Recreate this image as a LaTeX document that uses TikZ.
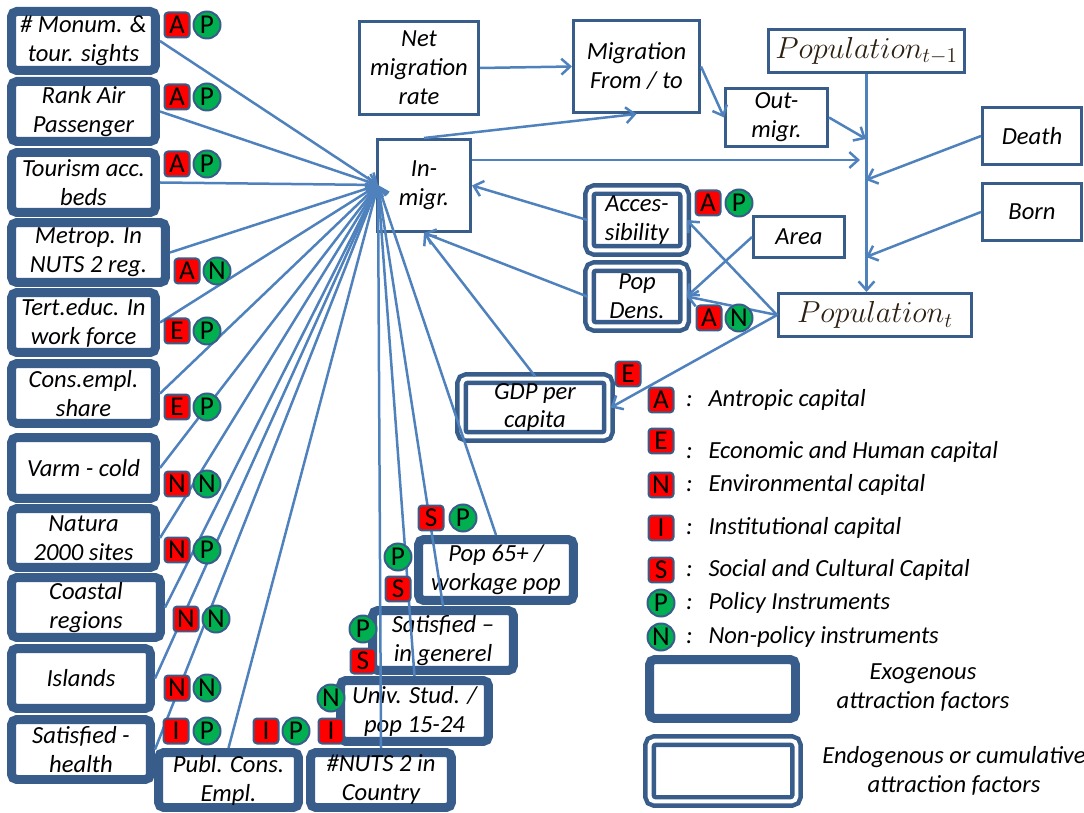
\documentclass[tikz,border=0pt]{standalone}
\usepackage{fontspec}
\setmainfont{Carlito}
\usepackage{amsmath}
\usepackage{tikz}
\usetikzlibrary{calc, shapes.geometric, arrows, arrows.meta}

\definecolor{caixa}{RGB}{56,93,138}
\definecolor{seta}{RGB}{79,129,189}
\definecolor{vermelho}{RGB}{255,0,0}
\definecolor{verde}{RGB}{0,176,80}
\definecolor{popcor}{RGB}{45,32,18}

\begin{document}
\begin{tikzpicture}[x=0.02cm, y=-0.02cm,
  >={Straight Barb[length=5pt, width=9pt]},
  rotulo/.style={align=center, inner sep=1pt, font=\fontsize{14}{16.5}\selectfont\itshape},
  exo/.style={rotulo, draw=caixa, line width=0.18cm, rounded corners=3pt, fill=white},
  endo/.style={rotulo, draw=caixa, line width=0.09cm, double=white, double distance=0.08cm, rounded corners=3pt, fill=white},
  simples/.style={rotulo, draw=caixa, line width=0.06cm, fill=white},
  pop/.style={draw=caixa, line width=0.06cm, fill=white, inner sep=1pt, text=popcor, font=\fontsize{18}{20}\selectfont},
  capred/.style={draw=caixa, line width=0.04cm, fill=vermelho, rounded corners=2pt, minimum size=0.5cm, inner sep=0pt, font=\fontsize{15.5}{15.5}\selectfont},
  capgreen/.style={circle, draw=caixa, line width=0.04cm, fill=verde, minimum size=0.54cm, inner sep=0pt, font=\fontsize{15.5}{15.5}\selectfont},
  fio/.style={seta, line width=0.05cm, ->},
  leg/.style={rotulo, anchor=west}]
\useasboundingbox (0,0) rectangle (1084,813);

% Fatores exogenos
\node[exo, minimum width=2.88cm, minimum height=1.18cm] (monum) at (83.5,41) {\# Monum. \&\\tour. sights};
\node[exo, minimum width=2.88cm, minimum height=1.2cm] (rankair) at (83.5,111.5) {Rank Air\\Passenger};
\node[exo, minimum width=2.88cm, minimum height=1.2cm] (tourism) at (83.5,182.5) {Tourism acc.\\beds};
\node[exo, minimum width=3.08cm, minimum height=1.2cm] (metrop) at (88.5,252.5) {Metrop. In\\NUTS 2 reg.};
\node[exo, minimum width=2.88cm, minimum height=1.2cm] (terteduc) at (83.5,322.5) {Tert.educ. In\\work force};
\node[exo, minimum width=2.88cm, minimum height=1.2cm] (consempl) at (83.5,393.5) {Cons.empl.\\share};
\node[exo, minimum width=2.88cm, minimum height=1.22cm] (varm) at (83.5,468) {Varm - cold};
\node[exo, minimum width=2.88cm, minimum height=1.18cm] (natura) at (83.5,538) {Natura\\2000 sites};
\node[exo, minimum width=2.98cm, minimum height=1.2cm] (coastal) at (86,607.5) {Coastal\\regions};
\node[exo, minimum width=2.78cm, minimum height=1.2cm] (islands) at (81,678.5) {Islands};
\node[exo, minimum width=2.78cm, minimum height=1.2cm] (sathealth) at (81,749.5) {Satisfied -\\health};
\node[exo, minimum width=2.8cm, minimum height=1.1cm] (publcons) at (228.5,780) {Publ. Cons.\\Empl.};
\node[exo, minimum width=2.82cm, minimum height=1.1cm] (nuts) at (381,780) {\#NUTS 2 in\\Country};
\node[exo, minimum width=2.96cm, minimum height=1.22cm] (univ) at (414.5,711) {Univ. Stud. /\\pop 15-24};
\node[exo, minimum width=2.82cm, minimum height=1.2cm] (satgen) at (443,640.5) {Satisfied --\\in generel};
\node[exo, minimum width=3.1cm, minimum height=1.22cm] (pop65) at (496,570) {Pop 65+ /\\workage pop};

% Fatores endogenos
\node[endo, minimum width=1.9cm, minimum height=1.22cm] (access) at (637,220) {Acces-\\sibility};
\node[endo, minimum width=1.9cm, minimum height=1.2cm] (popdens) at (637,296.5) {Pop\\Dens.};
\node[endo, minimum width=2.94cm, minimum height=1.16cm] (gdp) at (535,407.5) {GDP per\\capita};

% Caixas simples
\node[simples, minimum width=2.38cm, minimum height=1.86cm] (netmig) at (419,68) {Net\\migration\\rate};
\node[simples, minimum width=2.52cm, minimum height=1.84cm] (migr) at (636.5,66.5) {Migration\\From / to};
\node[simples, minimum width=1.86cm, minimum height=1.84cm] (inmigr) at (424,185.5) {In-\\migr.};
\node[simples, minimum width=2.04cm, minimum height=1.16cm] (outmigr) at (776.5,117.5) {Out-\\migr.};
\node[simples, minimum width=1.98cm, minimum height=1.14cm] (death) at (1032,136) {Death};
\node[simples, minimum width=1.98cm, minimum height=1.14cm] (born) at (1032,212) {Born};
\node[simples, minimum width=1.82cm, minimum height=0.82cm] (area) at (799,237) {Area};
\node[pop, minimum width=3.92cm, minimum height=0.86cm] (popprev) at (866.5,51) {$Population_{t-1}$};
\node[pop, minimum width=3.86cm, minimum height=0.86cm] (popnow) at (875,315) {$Population_{t}$};

% Pontos
\coordinate (hub) at (378,185);
\coordinate (c1) at (866,139);
\coordinate (c2) at (860,160);
\coordinate (c3) at (866,180);
\coordinate (c4) at (866,257);

% Setas
\draw[fio] (netmig.east) -- (migr.west);
\draw[fio] (migr.east) -- (outmigr.west);
\draw[fio] (inmigr.north) -- (migr.south);
\draw[fio] (inmigr.east |- c2) -- (c2);
\draw[fio] (outmigr.east) -- (c1);
\draw[fio] (popprev.south) -- (popprev.south |- popnow.north);
\draw[fio] (death.west) -- (c3);
\draw[fio] (born.west) -- (c4);
\draw[fio] (access.west) -- (inmigr.east);
\draw[fio] (popdens.west) -- (inmigr.south);
\draw[fio] (gdp.north) -- (inmigr.south);
\draw[fio] (popnow.west) -- (access.east);
\draw[fio] (popnow.west) -- (popdens.east);
\draw[fio] (area.west) -- (popdens.east);
\draw[fio] (popnow.west) -- (gdp.east);

% Leque para In-migr.
\draw[fio] (monum.east) -- (hub);
\draw[fio] (rankair.east) -- (hub);
\draw[fio] (tourism.east) -- (hub);
\draw[fio] (metrop.east) -- (hub);
\draw[fio] (terteduc.east) -- (hub);
\draw[fio] (consempl.east) -- (hub);
\draw[fio] (varm.east) -- (hub);
\draw[fio] (natura.east) -- (hub);
\draw[fio] (coastal.east) -- (hub);
\draw[fio] (islands.east) -- (hub);
\draw[fio] (sathealth.east) -- (hub);
\draw[fio] (publcons.north) -- (hub);
\draw[fio] (nuts.north) -- (hub);
\draw[fio] (univ.north) -- (hub);
\draw[fio] (satgen.north) -- (hub);
\draw[fio] (pop65.north) -- (hub);

% Capitais e instrumentos
\node[capred] (a1) at (177,25) {A};
\node[capgreen] (p1) at (207,25) {P};
\node[capred] (a2) at (177,97) {A};
\node[capgreen] (p2) at (207,97) {P};
\node[capred] (a3) at (177,164) {A};
\node[capgreen] (p3) at (207,164) {P};
\node[capred] (a4) at (187,271) {A};
\node[capgreen] (n4) at (217,271) {N};
\node[capred] (e5) at (177,331) {E};
\node[capgreen] (p5) at (207,331) {P};
\node[capred] (e6) at (177,407) {E};
\node[capgreen] (p6) at (207,407) {P};
\node[capred] (n7) at (177,484) {N};
\node[capgreen] (m7) at (207,484) {N};
\node[capred] (n8) at (177,550) {N};
\node[capgreen] (p8) at (207,550) {P};
\node[capred] (n9) at (186,619) {N};
\node[capgreen] (m9) at (216,619) {N};
\node[capred] (n10) at (177,688) {N};
\node[capgreen] (m10) at (207,688) {N};
\node[capred] (i11) at (176,731) {I};
\node[capgreen] (p11) at (207,731) {P};
\node[capred] (i12) at (266,731) {I};
\node[capgreen] (p12) at (296,731) {P};
\node[capred] (i13) at (331,731) {I};
\node[capgreen] (m14) at (331,698) {N};
\node[capgreen] (p15) at (363,629) {P};
\node[capred] (s15) at (363,661) {S};
\node[capgreen] (p16) at (398,557) {P};
\node[capred] (s16) at (398,589) {S};
\node[capred] (s17) at (431,518) {S};
\node[capgreen] (p17) at (463,518) {P};
\node[capred] (a18) at (708,203) {A};
\node[capgreen] (p18) at (739,203) {P};
\node[capred] (a19) at (709,318) {A};
\node[capgreen] (m19) at (739,318) {N};
\node[capred] (e20) at (628,374) {E};

% Legenda
\node[capred] (lgA) at (661,400) {A};
\node[capred] (lgE) at (661,441) {E};
\node[capred] (lgN) at (661,485) {N};
\node[capred] (lgI) at (661,528) {I};
\node[capred] (lgS) at (661,570) {S};
\node[capgreen] (lgP) at (661,603) {P};
\node[capgreen] (lgM) at (661,637) {N};
\node[leg] (tA) at (684,400) {:\hspace{9pt}Antropic capital};
\node[leg] (tE) at (684,452) {:\hspace{9pt}Economic and Human capital};
\node[leg] (tN) at (684,485) {:\hspace{9pt}Environmental capital};
\node[leg] (tI) at (684,528) {:\hspace{9pt}Institutional capital};
\node[leg] (tS) at (684,570) {:\hspace{9pt}Social and Cultural Capital};
\node[leg] (tP) at (684,603) {:\hspace{9pt}Policy Instruments};
\node[leg] (tM) at (684,637) {:\hspace{9pt}Non-policy instruments};
\node[exo, minimum width=2.92cm, minimum height=1.18cm] (legexo) at (722.5,689) {};
\node[endo, minimum width=2.94cm, minimum height=1.22cm] (legendo) at (723,771) {};
\node[rotulo] (txtexo) at (923,688) {Exogenous\\attraction factors};
\node[rotulo] (txtendo) at (954,771) {Endogenous or cumulative\\attraction factors};
\end{tikzpicture}
\end{document}
